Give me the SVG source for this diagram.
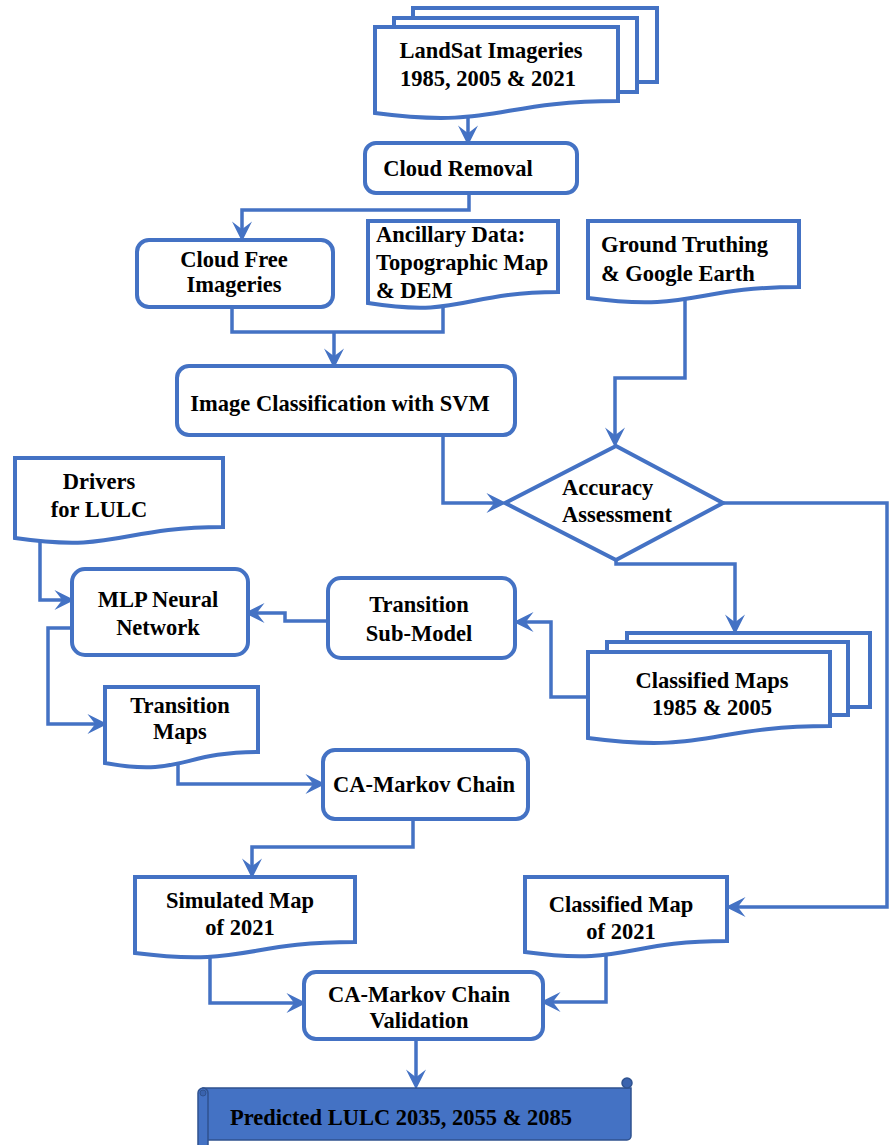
<svg xmlns="http://www.w3.org/2000/svg" width="891" height="1145" viewBox="0 0 891 1145">
<style>
.n{fill:#fff;stroke:#4472C4;stroke-width:4;stroke-linejoin:miter}
.t{font-family:"Liberation Serif","Times New Roman",serif;font-weight:bold;font-size:22.5px;fill:#000}
.m{text-anchor:middle}
.c{fill:none;stroke:#4472C4;stroke-width:3.5;stroke-linejoin:miter}
.a{marker-end:url(#ah)}
</style>
<defs>
<marker id="ah" markerUnits="userSpaceOnUse" markerWidth="20" markerHeight="20" viewBox="0 0 18 18" refX="14" refY="9" orient="auto">
<path d="M0,0 L18,9 L0,18 L7,9 Z" fill="#4472C4"/>
</marker>
</defs>
<rect width="891" height="1145" fill="#fff"/>

<g id="connectors">
<path class="c a" d="M468,106 V141"/>
<path class="c a" d="M469,193 V210 H242 V237"/>
<path class="c" d="M232,307 V332 H443 V298"/>
<path class="c a" d="M334,332 V364"/>
<path class="c a" d="M443,435 V503 H502"/>
<path class="c a" d="M685,300 V378 H615 V443"/>
<path class="c a" d="M723,503 H887 V907 H730"/>
<path class="c a" d="M616,560 V564 H735 V630"/>
<path class="c a" d="M588,697 H551 V622 H518"/>
<path class="c a" d="M328,621 H285 V613 H249"/>
<path class="c a" d="M40,535 V600 H70"/>
<path class="c a" d="M72,628 H48 V724 H103"/>
<path class="c a" d="M178,760 V784 H321"/>
<path class="c a" d="M413,820 V847 H252 V874"/>
<path class="c a" d="M210,950 V1003 H302"/>
<path class="c a" d="M606,948 V1002 H545"/>
<path class="c a" d="M416,1039 V1085"/>
</g>

<g id="landsat">
<rect class="n" x="413" y="8" width="244" height="74"/>
<rect class="n" x="394" y="18" width="243" height="74"/>
<path class="n" d="M375,27 H618 V101 C496.5,101 496.5,129 375,113 Z"/>
<text class="t m" x="491" y="58">LandSat Imageries</text>
<text class="t m" x="488" y="86">1985, 2005 &amp; 2021</text>
</g>

<g id="cloud-removal">
<rect class="n" x="365" y="143" width="212" height="50" rx="11"/>
<text class="t m" x="458" y="176">Cloud Removal</text>
</g>

<g id="cloud-free">
<rect class="n" x="137" y="240" width="196" height="67" rx="12"/>
<text class="t m" x="234" y="267">Cloud Free</text>
<text class="t m" x="234" y="292">Imageries</text>
</g>

<g id="ancillary">
<path class="n" d="M368,221 H558 V292 C463,292 463,318 368,303 Z"/>
<text class="t" x="376" y="242">Ancillary Data:</text>
<text class="t" x="376" y="270">Topographic Map</text>
<text class="t" x="376" y="298">&amp; DEM</text>
</g>

<g id="image-classification">
<rect class="n" x="177" y="366" width="338" height="69" rx="12"/>
<text class="t m" x="340" y="411">Image Classification with SVM</text>
</g>

<g id="ground-truthing">
<path class="n" d="M588,221 H799 V287 C693.5,287 693.5,312 588,298 Z"/>
<text class="t" x="601" y="252">Ground Truthing</text>
<text class="t" x="601" y="281">&amp; Google Earth</text>
</g>

<g id="accuracy">
<path class="n" d="M505,503 L616,446 L723,503 L616,560 Z"/>
<text class="t" x="562" y="495">Accuracy</text>
<text class="t" x="562" y="522">Assessment</text>
</g>

<g id="drivers">
<path class="n" d="M15,458 H223 V527 C119,527 119,553 15,538 Z"/>
<text class="t m" x="99" y="489">Drivers</text>
<text class="t m" x="99" y="517">for LULC</text>
</g>

<g id="mlp">
<rect class="n" x="72" y="569" width="176" height="86" rx="13"/>
<text class="t m" x="158" y="607">MLP Neural</text>
<text class="t m" x="158" y="635">Network</text>
</g>

<g id="transition-submodel">
<rect class="n" x="328" y="578" width="187" height="80" rx="13"/>
<text class="t m" x="419" y="612">Transition</text>
<text class="t m" x="419" y="641">Sub-Model</text>
</g>

<g id="classified-maps">
<rect class="n" x="627" y="633" width="243" height="74"/>
<rect class="n" x="607" y="642" width="241" height="73"/>
<path class="n" d="M588,652 H830 V726 C709,726 709,754 588,738 Z"/>
<text class="t m" x="712" y="688">Classified Maps</text>
<text class="t m" x="712" y="715">1985 &amp; 2005</text>
</g>

<g id="transition-maps">
<path class="n" d="M105,687 H258 V752 C181.5,752 181.5,777 105,763 Z"/>
<text class="t m" x="180" y="713">Transition</text>
<text class="t m" x="180" y="739">Maps</text>
</g>

<g id="ca-markov">
<rect class="n" x="323" y="750" width="205" height="69" rx="12"/>
<text class="t m" x="424" y="792">CA-Markov Chain</text>
</g>

<g id="simulated-map">
<path class="n" d="M135,877 H355 V942 C245,942 245,967 135,953 Z"/>
<text class="t m" x="240" y="908">Simulated Map</text>
<text class="t m" x="240" y="935">of 2021</text>
</g>

<g id="classified-map-2021">
<path class="n" d="M525,877 H727 V941 C626,941 626,966 525,952 Z"/>
<text class="t m" x="621" y="912">Classified Map</text>
<text class="t m" x="621" y="939">of 2021</text>
</g>

<g id="validation">
<rect class="n" x="304" y="972" width="239" height="67" rx="12"/>
<text class="t m" x="419" y="1002">CA-Markov Chain</text>
<text class="t m" x="419" y="1028">Validation</text>
</g>

<g id="predicted">
<path d="M203,1088 H631 V1136 a4,4 0 0 1 -4,4 H206 V1160 H203 Z" fill="#4472C4" stroke="#2F528F" stroke-width="1.5"/>
<circle cx="627" cy="1083" r="5" fill="#3A63AE" stroke="#2F528F" stroke-width="1.5"/>
<path d="M198,1093 a5,5 0 0 1 10,0 V1150 H198 Z" fill="#4472C4" stroke="#2F528F" stroke-width="1.5"/>
<circle cx="203" cy="1093" r="3" fill="#3A63AE" stroke="#2F528F" stroke-width="1"/>
<text class="t m" x="401" y="1125">Predicted LULC 2035, 2055 &amp; 2085</text>
</g>
</svg>
